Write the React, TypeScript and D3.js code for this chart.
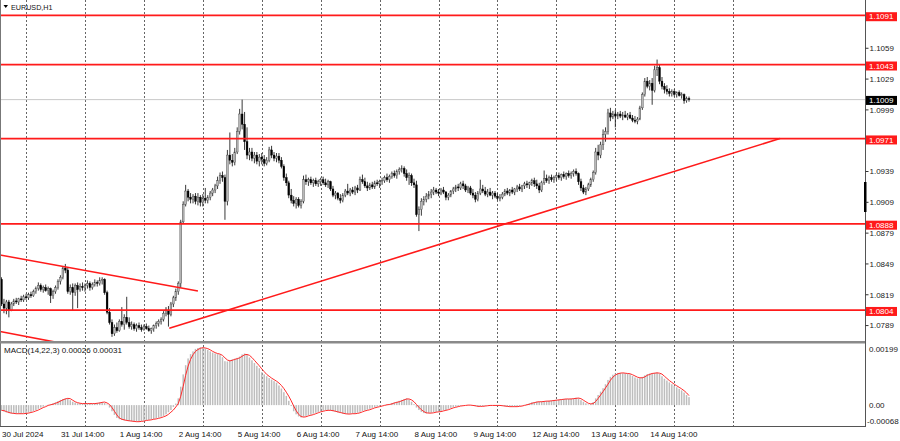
import React from "react";
import * as d3 from "d3";

const W = 900;
const H = 441;

const symbolTitle = "EURUSD,H1";
const macdTitle = "MACD(14,22,3) 0.00026 0.00031";
const levelPrices = [1.1091, 1.1043, 1.0971, 1.0888, 1.0804];
const bidPrice = 1.1009;
const priceTicks = [1.1059, 1.1029, 1.0999, 1.0939, 1.0909, 1.0879, 1.0849, 1.0819, 1.0789];
const macdTickValues = [0.00199, 0.0, -0.00068];
const macdTickLabels = ["0.00199", "0.00", "-0.00068"];
const timeLabels = [
  "30 Jul 2024", "31 Jul 14:00", "1 Aug 14:00", "2 Aug 14:00", "5 Aug 14:00", "6 Aug 14:00",
  "7 Aug 14:00", "8 Aug 14:00", "9 Aug 14:00", "12 Aug 14:00", "13 Aug 14:00", "14 Aug 14:00",
];
const timeLabelBars = [0, 24, 48, 72, 96, 120, 144, 168, 192, 216, 240, 264];
const separatorBars = [10, 34, 58, 82, 106, 130, 154, 178, 202, 226, 250, 274, 298];

// trend lines: [barIndex, price]
const trendLines: [number, number][][] = [
  [[-0.6, 1.08577], [80, 1.08227]],
  [[-0.6, 1.07832], [24, 1.0772]],
  [[68.34, 1.07863], [317.06, 1.09711]],
];

// H1 candles [open, high, low, close] in pips above 1.0000 (e.g. 834 = 1.0834)
const candles: [number, number, number, number][] = [
  [834,836,808,810],[810,815,801,806],[806,814,800,812],[812,814,797,804],[804,812,803,810],
  [810,815,808,813],[813,816,810,812],[812,816,809,815],[815,818,812,814],[814,819,812,817],
  [817,820,814,816],[816,821,814,819],[819,822,816,818],[818,824,817,822],[822,827,820,825],
  [825,831,823,828],[828,830,822,824],[824,828,821,826],[826,829,822,823],[823,827,819,825],
  [825,826,811,818],[818,824,815,822],[822,828,820,826],[826,834,824,832],[832,838,829,836],
  [836,847,834,845],[845,849,840,843],[843,845,820,822],[822,829,819,826],[826,830,804,821],
  [821,830,818,828],[828,831,806,824],[824,830,822,827],[827,831,823,826],[826,830,822,828],
  [828,833,825,830],[830,832,823,826],[826,831,824,829],[829,834,827,831],[831,833,827,830],
  [830,836,828,833],[833,836,829,834],[834,835,819,821],[821,823,800,802],[802,806,790,792],
  [792,795,778,781],[781,790,779,787],[787,792,782,784],[784,795,783,793],[793,807,788,790],
  [790,800,785,797],[797,817,790,792],[792,797,786,788],[788,793,785,790],[790,792,784,786],
  [786,791,783,789],[789,792,785,787],[787,790,783,785],[785,790,784,788],[788,791,785,786],
  [786,789,783,784],[784,787,781,786],[786,790,783,789],[789,793,786,791],[791,795,788,793],
  [793,797,790,795],[795,803,793,801],[801,807,798,805],[804,808,788,800],[800,812,798,810],
  [810,818,807,816],[816,825,813,822],[822,832,819,830],[830,892,826,890],[890,910,888,907],
  [907,926,905,920],[920,922,910,914],[914,918,908,912],[912,917,908,915],[915,918,907,910],
  [910,918,906,914],[914,916,905,909],[909,917,905,913],[913,923,908,911],[911,916,908,914],
  [914,920,911,918],[918,923,915,921],[921,927,918,925],[925,934,922,930],[930,938,927,935],
  [935,939,929,933],[933,936,892,910],[910,960,906,955],[955,977,946,950],[950,956,944,948],
  [948,962,945,958],[958,982,956,978],[978,1000,975,995],[995,1009,980,985],[985,997,960,968],
  [968,982,951,955],[955,962,950,958],[958,962,949,952],[952,958,947,955],[955,958,946,949],
  [949,956,944,953],[953,957,946,951],[951,955,944,947],[947,953,945,950],[950,963,948,960],
  [960,964,952,955],[955,958,949,952],[952,957,948,954],[954,957,947,950],[950,953,942,944],
  [944,946,930,933],[933,937,925,928],[928,930,913,916],[916,922,908,911],[911,915,905,908],
  [908,914,903,912],[912,914,904,906],[906,912,903,910],[910,935,908,931],[931,936,926,929],
  [929,933,925,931],[931,934,926,928],[928,932,924,930],[930,933,925,927],[927,931,924,929],
  [929,933,925,931],[931,934,926,928],[928,932,924,926],[926,931,923,929],[929,930,920,922],
  [922,925,914,916],[916,920,912,918],[918,919,911,913],[913,917,908,911],[911,918,909,916],
  [916,922,914,920],[920,927,916,918],[918,923,915,921],[921,924,917,919],[919,925,916,923],
  [923,926,918,921],[921,934,920,931],[931,936,927,929],[929,933,923,925],[925,929,920,923],
  [923,928,921,926],[926,929,922,924],[924,930,922,928],[928,931,925,927],[927,931,923,929],
  [929,933,926,930],[930,935,928,933],[933,937,929,931],[931,936,928,934],[934,939,932,937],
  [937,940,933,935],[935,941,932,939],[939,943,936,941],[941,945,938,942],[942,944,934,937],
  [937,941,930,933],[933,938,926,935],[935,937,925,928],[928,932,923,926],[926,930,895,897],
  [897,905,881,902],[902,913,896,910],[910,915,906,912],[912,918,909,915],[915,920,912,917],
  [917,922,913,919],[919,924,916,921],[921,923,917,919],[919,922,915,918],[918,923,916,921],
  [921,924,917,919],[919,920,911,914],[914,918,911,916],[916,921,914,920],[920,924,917,922],
  [922,926,919,924],[924,927,920,923],[923,929,921,927],[927,930,922,925],[925,927,919,921],
  [921,925,918,923],[923,925,916,918],[918,922,913,916],[916,919,909,912],[912,920,910,918],
  [918,931,916,922],[922,926,918,920],[920,924,915,917],[917,922,914,919],[919,923,915,916],
  [916,920,912,918],[918,920,913,915],[915,918,911,913],[913,917,910,914],[914,919,912,917],
  [917,922,915,920],[920,923,916,918],[918,922,915,921],[921,924,917,919],[919,923,916,922],
  [922,926,919,924],[924,927,920,922],[922,926,919,925],[925,929,922,927],[927,930,923,926],
  [926,929,922,928],[928,932,925,930],[930,933,924,927],[927,931,922,925],[925,928,918,921],
  [921,930,919,928],[928,940,926,932],[932,936,928,930],[930,935,927,933],[933,936,929,931],
  [931,935,928,933],[933,937,930,935],[935,938,931,933],[933,937,930,936],[936,939,932,934],
  [934,938,931,937],[937,940,933,935],[935,939,932,937],[937,941,934,939],[939,942,935,937],
  [937,938,926,929],[929,932,920,923],[923,926,917,919],[919,924,916,922],[922,928,920,926],
  [926,933,924,931],[931,940,929,938],[938,962,936,958],[958,965,950,955],[955,968,952,965],
  [965,980,960,975],[975,982,968,978],[978,1000,975,996],[996,1001,988,992],[992,998,990,995],
  [995,999,982,993],[993,997,990,995],[995,998,991,993],[993,997,989,994],[994,998,991,992],
  [992,996,989,994],[994,997,990,991],[991,994,987,989],[989,993,986,988],[988,992,985,990],
  [990,1003,989,1001],[1001,1016,999,1014],[1014,1030,1012,1027],[1027,1031,1020,1022],[1022,1028,1018,1025],
  [1025,1030,1004,1018],[1018,1042,1016,1038],[1038,1048,1032,1040],[1040,1043,1024,1027],[1027,1031,1019,1022],
  [1022,1025,1015,1019],[1019,1023,1014,1017],[1017,1020,1012,1015],[1015,1019,1012,1017],[1017,1019,1012,1014],
  [1014,1017,1011,1016],[1016,1018,1012,1013],[1013,1016,1010,1014],[1014,1015,1005,1008],[1008,1012,1006,1010],
  [1010,1012,1007,1009],
];

// MACD main (histogram) in units of 0.00001
const macdMain = [
  -18,-21,-24,-26,-27,-28,-28,-28,-28,-27,
  -26,-24,-22,-19,-16,-12,-8,-5,-1,1,
  3,6,9,13,17,20,22,21,16,11,
  8,6,5,5,5,5,5,5,6,7,
  9,10,7,2,-8,-20,-32,-42,-46,-48,
  -50,-51,-52,-53,-54,-54,-53,-52,-50,-49,
  -48,-46,-45,-43,-41,-38,-35,-30,-23,-16,
  -6,5,22,60,100,130,152,166,175,183,
  186,188,187,184,180,175,171,168,166,163,
  156,143,142,146,149,151,154,158,165,168,
  163,155,146,137,128,120,107,100,94,88,
  83,78,73,64,54,42,30,14,-3,-20,
  -30,-37,-40,-38,-35,-33,-31,-28,-25,-22,
  -20,-18,-16,-16,-18,-20,-22,-24,-26,-28,
  -29,-29,-28,-28,-27,-25,-22,-19,-17,-15,
  -12,-9,-7,-5,-3,-1,1,2,4,7,
  9,11,14,17,20,22,18,11,3,-8,
  -16,-22,-26,-27,-26,-25,-23,-22,-21,-19,
  -17,-16,-12,-9,-7,-5,-3,-2,-1,0,
  0,-1,-2,-4,-5,-4,-3,-2,-1,-1,
  -1,-1,-1,-2,-3,-4,-5,-5,-5,-5,
  -4,-3,-1,1,3,6,9,10,11,11,
  12,13,13,14,15,16,17,18,19,20,
  20,20,21,22,24,22,16,11,6,2,
  3,10,22,33,44,55,68,82,92,99,
  103,105,105,104,103,102,100,95,90,87,
  88,92,97,101,103,104,105,106,102,94,
  86,80,74,68,63,58,53,48,41,33,26,
];

// MACD signal line in units of 0.00001
const macdSignal = [
  -17,-18,-21,-24,-26,-27,-28,-28,-28,-28,
  -27,-26,-24,-22,-19,-16,-12,-8,-5,-1,
  1,3,6,9,13,17,20,22,21,16,
  11,8,6,5,5,5,5,5,5,6,
  7,9,10,7,2,-8,-20,-32,-42,-46,
  -48,-50,-51,-52,-53,-54,-54,-53,-52,-50,
  -49,-48,-46,-45,-43,-41,-38,-35,-30,-23,
  -16,-6,5,29,61,97,127,149,164,175,
  181,185,187,186,184,180,175,171,168,166,
  162,154,147,144,146,149,151,154,159,164,
  165,162,155,146,137,128,118,109,100,94,
  88,83,78,72,64,54,42,29,14,-3,
  -18,-30,-37,-39,-38,-35,-33,-31,-28,-25,
  -22,-20,-18,-17,-17,-18,-20,-22,-24,-26,
  -28,-29,-29,-28,-28,-27,-25,-22,-19,-17,
  -15,-12,-9,-7,-5,-3,-1,1,2,4,
  7,9,11,14,17,20,20,17,11,2,
  -7,-15,-21,-25,-26,-26,-25,-23,-22,-21,
  -19,-17,-15,-12,-9,-7,-5,-3,-2,-1,
  0,0,-1,-2,-4,-4,-4,-3,-2,-1,
  -1,-1,-1,-1,-2,-3,-4,-5,-5,-5,
  -5,-4,-3,-1,1,3,6,8,10,11,
  11,12,13,13,14,15,16,17,18,19,
  20,20,20,21,22,23,21,16,11,6,
  4,5,12,22,33,44,56,68,81,91,
  98,102,104,105,104,103,102,99,95,91,
  89,89,92,97,100,103,104,105,104,101,
  94,87,80,74,68,63,58,53,47,40,31,
];

const FONT = "'Liberation Sans', Arial, sans-serif";
const AXIS_X = 865.5;
const MAIN_BOTTOM = 341;
const MACD_TOP = 344;
const MACD_BOTTOM = 426;

export default function App() {
  const xScale = d3.scaleLinear().domain([0, 280]).range([1.5, 689]);
  const yPrice = d3.scaleLinear().domain([1.0773, 1.1106]).range([342, 0]);
  const yMacd = d3.scaleLinear().domain([-0.00068, 0.00199]).range([MACD_BOTTOM, MACD_TOP]);
  const pv = (v: number) => 1 + v / 10000;
  const mv = (v: number) => v / 100000;

  const signalLine = d3
    .line<number>()
    .x((_, i) => xScale(i))
    .y((d) => yMacd(mv(d)))
    .curve(d3.curveLinear)(macdSignal) || "";

  const trendPath = d3
    .line<[number, number]>()
    .x((d) => xScale(d[0]))
    .y((d) => yPrice(d[1]));

  const gridXs = separatorBars.map((b) => Math.round(xScale(b)) + 0.5);

  return (
    <div style={{ position: "absolute", left: 0, top: 0, width: W, height: H, background: "#fff" }}>
      <svg width={W} height={H} style={{ display: "block" }} fontFamily={FONT}>
        <defs>
          <clipPath id="mainClip">
            <rect x={0} y={0} width={AXIS_X} height={MAIN_BOTTOM} />
          </clipPath>
          <clipPath id="macdClip">
            <rect x={0} y={MACD_TOP} width={AXIS_X} height={MACD_BOTTOM - MACD_TOP} />
          </clipPath>
        </defs>
        <rect x={0} y={0} width={W} height={H} fill="#fff" />

        {/* grid separators */}
        <g stroke="#666" strokeWidth={1} strokeDasharray="2,2">
          {gridXs.map((x, k) => (
            <g key={k}>
              <line x1={x} x2={x} y1={0} y2={MAIN_BOTTOM} />
              <line x1={x} x2={x} y1={MACD_TOP + 1} y2={MACD_BOTTOM} />
            </g>
          ))}
        </g>

        <g clipPath="url(#mainClip)">
          {/* bid line */}
          <line x1={0} x2={AXIS_X} y1={yPrice(bidPrice)} y2={yPrice(bidPrice)} stroke="#c8c8c8" strokeWidth={1} />
          {/* candles */}
          {candles.map((c, i) => {
            const [o, h, l, cl] = c;
            const x = xScale(i);
            const bull = cl >= o;
            const yTop = yPrice(pv(Math.max(o, cl)));
            const yBot = yPrice(pv(Math.min(o, cl)));
            return (
              <g key={i}>
                <line x1={x} x2={x} y1={yPrice(pv(h))} y2={yPrice(pv(l))} stroke="#222" strokeWidth={0.9} />
                <rect
                  x={x - 0.9}
                  y={yTop}
                  width={1.8}
                  height={Math.max(0.8, yBot - yTop)}
                  fill={bull ? "#b8b8b8" : "#000"}
                  stroke={bull ? "#444" : "#000"}
                  strokeWidth={0.4}
                />
              </g>
            );
          })}
          {/* level lines */}
          {levelPrices.map((p, k) => (
            <line key={k} x1={0} x2={AXIS_X} y1={yPrice(p)} y2={yPrice(p)} stroke="#ff1a1a" strokeWidth={1.8} />
          ))}
          {/* trend lines */}
          {trendLines.map((t, k) => (
            <path key={k} d={trendPath(t) || ""} stroke="#ff1a1a" strokeWidth={1.6} fill="none" />
          ))}
        </g>

        {/* MACD histogram and signal */}
        <g clipPath="url(#macdClip)">
          {macdMain.map((v, i) => {
            const y0 = yMacd(0);
            const y1 = yMacd(mv(v));
            return (
              <rect
                key={i}
                x={xScale(i) - 0.75}
                y={Math.min(y0, y1)}
                width={1.5}
                height={Math.abs(y1 - y0)}
                fill="#bdbdbd"
              />
            );
          })}
          <path d={signalLine} stroke="#ff2a2a" strokeWidth={1} fill="none" />
        </g>

        {/* frames */}
        <line x1={0.5} x2={0.5} y1={0} y2={MACD_BOTTOM} stroke="#777" strokeWidth={1} />
        <rect x={0} y={MAIN_BOTTOM} width={AXIS_X} height={2.5} fill="#8a8a8a" />
        <line x1={0} x2={AXIS_X} y1={MACD_BOTTOM + 0.5} y2={MACD_BOTTOM + 0.5} stroke="#555" strokeWidth={1} />
        <line x1={AXIS_X} x2={AXIS_X} y1={0} y2={MACD_BOTTOM + 1} stroke="#555" strokeWidth={1} />
        <rect x={864} y={182} width={2.5} height={30} fill="#000" />

        {/* title */}
        <path d="M3.5,5 L8,5 L5.75,8 Z" fill="#000" />
        <text x={11} y={10} fontSize={7.2} fill="#111">{symbolTitle}</text>
        <text x={4} y={353} fontSize={8} fill="#111">{macdTitle}</text>

        {/* price axis ticks */}
        {priceTicks.map((p, k) => {
          const y = yPrice(p);
          return (
            <g key={k}>
              <line x1={AXIS_X} x2={AXIS_X + 3} y1={y} y2={y} stroke="#333" />
              <text x={869.5} y={y + 2.9} fontSize={8} fill="#222">{p.toFixed(4)}</text>
            </g>
          );
        })}

        {/* level labels */}
        {levelPrices.map((p, k) => {
          const y = yPrice(p);
          return (
            <g key={k}>
              <rect x={AXIS_X + 0.5} y={y - 3.2} width={31} height={9} fill="#ff1a1a" />
              <text x={869} y={y + 4} fontSize={8} fill="#fff">{p.toFixed(4)}</text>
            </g>
          );
        })}
        {(() => {
          const y = yPrice(bidPrice);
          return (
            <g>
              <rect x={AXIS_X + 0.5} y={y - 3.7} width={31} height={9} fill="#000" />
              <text x={869} y={y + 3.5} fontSize={8} fill="#fff">{bidPrice.toFixed(4)}</text>
            </g>
          );
        })()}

        {/* MACD axis labels */}
        {macdTickValues.map((v, k) => {
          const y = yMacd(v);
          const dy = k === 0 ? 7.8 : k === 2 ? -2 : 2.9;
          return (
            <text key={k} x={k === 2 ? 867 : 869} y={y + dy} fontSize={8} fill="#222">
              {macdTickLabels[k]}
            </text>
          );
        })}

        {/* time labels */}
        {timeLabels.map((t, k) => (
          <text key={k} x={xScale(timeLabelBars[k]) + 0.5} y={436.5} fontSize={8} fill="#111">{t}</text>
        ))}
      </svg>
    </div>
  );
}
